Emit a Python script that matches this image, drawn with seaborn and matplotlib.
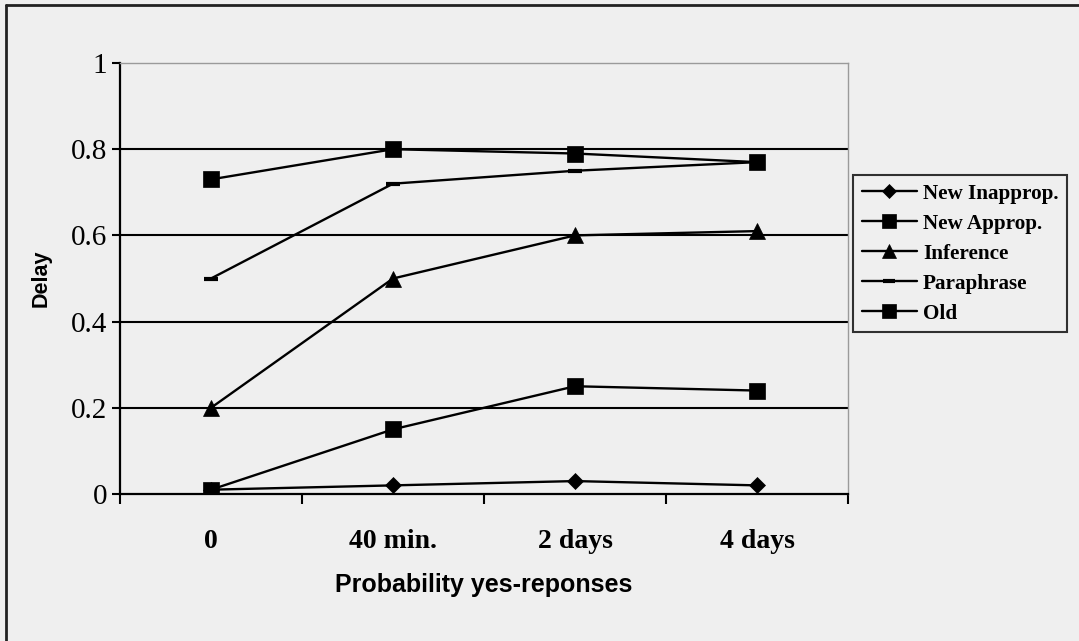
import matplotlib
matplotlib.use("Agg")
import matplotlib.pyplot as plt
import matplotlib.lines as mlines
import seaborn as sns
import pandas as pd

# Retention intervals (categories on the x axis)
delays = ["0", "40 min.", "2 days", "4 days"]

# Proportion of yes-responses per sentence type
new_inapprop = [0.01, 0.02, 0.03, 0.02]
new_approp = [0.01, 0.15, 0.25, 0.24]
inference = [0.20, 0.50, 0.60, 0.61]
paraphrase = [0.50, 0.72, 0.75, 0.77]
old = [0.73, 0.80, 0.79, 0.77]

series_names = ["New Inapprop.", "New Approp.", "Inference", "Paraphrase", "Old"]
series_values = [new_inapprop, new_approp, inference, paraphrase, old]

y_ticks = [0, 0.2, 0.4, 0.6, 0.8, 1.0]
y_tick_labels = ["0", "0.2", "0.4", "0.6", "0.8", "1"]

rows = []
for name, vals in zip(series_names, series_values):
    for i, v in enumerate(vals):
        rows.append({"pos": i + 0.5, "value": v, "series": name})
df = pd.DataFrame(rows)

BG = "#efefef"
sns.set_theme(style="white")
plt.rcParams["font.family"] = ["Liberation Serif", "DejaVu Serif"]
plt.rcParams["text.color"] = "black"
plt.rcParams["axes.labelcolor"] = "black"

fig = plt.figure(figsize=(10.79, 6.41), dpi=100, facecolor=BG)
ax = fig.add_axes([120 / 1079, 1 - 494 / 641, (848 - 120) / 1079, (494 - 63) / 641])
ax.set_facecolor(BG)

markers = {"New Inapprop.": "D", "New Approp.": "s", "Inference": "^",
           "Paraphrase": "_", "Old": "s"}
sizes = {"New Inapprop.": 8, "New Approp.": 11, "Inference": 11,
         "Paraphrase": 10, "Old": 11}

# horizontal reference lines
for yv in [0.2, 0.4, 0.6, 0.8]:
    ax.axhline(yv, color="black", lw=1.5, zorder=1)

for name in series_names:
    sub = df[df["series"] == name]
    sns.lineplot(data=sub, x="pos", y="value", ax=ax, color="black",
                 marker=markers[name], markersize=sizes[name],
                 markeredgecolor="black", markerfacecolor="black",
                 markeredgewidth=3 if name == "Paraphrase" else 0.5,
                 linewidth=1.7, legend=False, zorder=3)

ax.set_xlim(0, 4)
ax.set_ylim(0, 1)

# axis spines
for side in ["left", "bottom"]:
    ax.spines[side].set_color("black")
    ax.spines[side].set_linewidth(1.6)
for side in ["top", "right"]:
    ax.spines[side].set_color("#9a9a9a")
    ax.spines[side].set_linewidth(1.0)

# y ticks
ax.set_yticks(y_ticks)
ax.set_yticklabels(y_tick_labels, fontsize=21, fontweight="normal")
ax.tick_params(axis="y", which="major", direction="out", length=6, width=1.5,
               pad=3, left=True, colors="black")

# x ticks: marks at category boundaries, labels centred on categories
ax.set_xticks([0, 1, 2, 3, 4])
ax.set_xticklabels([])
ax.set_xticks([0.5, 1.5, 2.5, 3.5], minor=True)
ax.set_xticklabels(delays, minor=True, fontsize=20, fontweight="bold")
ax.tick_params(axis="x", which="major", direction="out", length=7, width=1.5,
               bottom=True, colors="black")
ax.tick_params(axis="x", which="minor", length=0, pad=25, colors="black")

ax.set_xlabel("Probability yes-reponses", fontsize=18, fontweight="bold",
              family=["Liberation Sans", "DejaVu Sans"], labelpad=14)
ax.set_ylabel("Delay", fontsize=15.5, fontweight="bold",
              family=["Liberation Sans", "DejaVu Sans"], labelpad=14)

# legend
handles = [mlines.Line2D([], [], color="black", lw=1.7, marker=markers[n],
                         markersize=sizes[n] * 0.9,
                         markeredgewidth=3 if n == "Paraphrase" else 0.5,
                         markerfacecolor="black", markeredgecolor="black")
           for n in series_names]
leg = fig.legend(handles, series_names, loc="upper left",
                 bbox_to_anchor=(853 / 1079, 1 - 175 / 641),
                 prop={"family": ["Liberation Serif", "DejaVu Serif"],
                       "weight": "bold", "size": 15.2},
                 frameon=True, fancybox=False, handlelength=2.6,
                 handletextpad=0.3, labelspacing=0.47, borderpad=0.42,
                 borderaxespad=0)
leg.get_frame().set_edgecolor("black")
leg.get_frame().set_linewidth(1.5)
leg.get_frame().set_facecolor(BG)

# outer frame around the chart
fig.add_artist(mlines.Line2D([6 / 1079, 6 / 1079], [0, 1 - 5 / 641],
                             color="#222222", lw=2, transform=fig.transFigure))
fig.add_artist(mlines.Line2D([6 / 1079, 1], [1 - 5 / 641, 1 - 5 / 641],
                             color="#222222", lw=2, transform=fig.transFigure))

fig.savefig("out.png", dpi=100, facecolor=BG)
